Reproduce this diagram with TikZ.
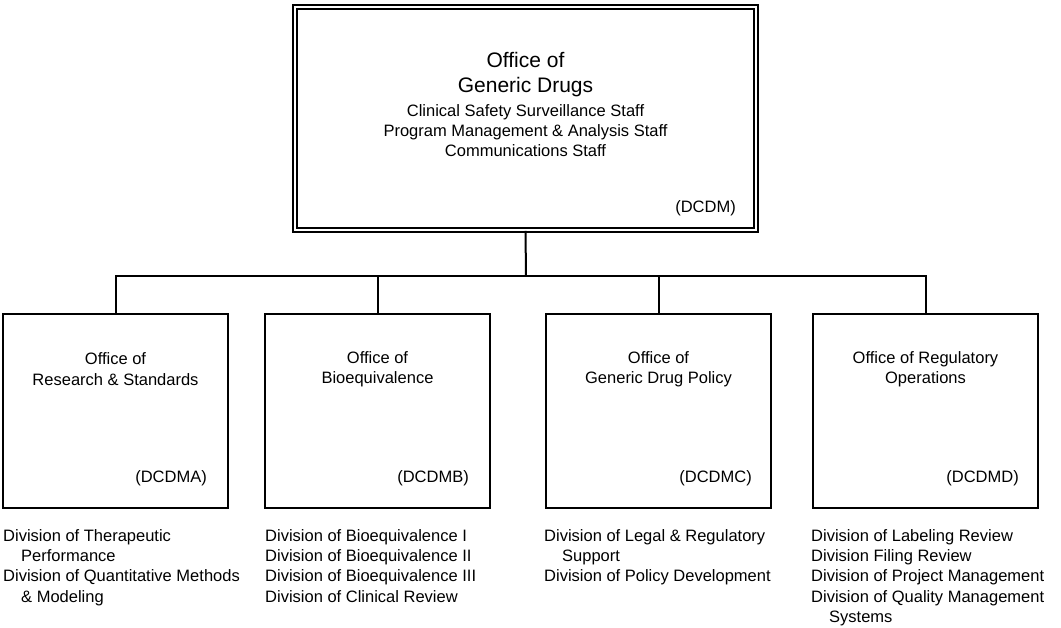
\documentclass[tikz,border=0pt]{standalone}
\usepackage{fontspec}
\setmainfont{Liberation Sans}
\begin{document}
\begin{tikzpicture}[x=1pt,y=-1pt,
  unitbox/.style={draw, line width=2pt, minimum width=225pt, minimum height=194pt, inner sep=0pt},
  topbox/.style={draw, double, double distance=2.2pt, line width=1.6pt, minimum width=461pt, minimum height=223pt, inner sep=0pt},
  titletext/.style={align=center, inner sep=0pt, font=\fontsize{16.5}{20.3}\selectfont},
  codetext/.style={anchor=east, inner sep=0pt, font=\fontsize{16.5}{20.3}\selectfont},
  listtext/.style={anchor=north west, align=left, inner sep=0pt, font=\fontsize{16.5}{20.4}\selectfont},
  link/.style={line width=2pt}]
\useasboundingbox (0,0) rectangle (1061,628);

\node[topbox] (top) at (525.5,118.5) {};
\node[align=center, inner sep=0pt, font=\fontsize{21}{25}\selectfont] (toptitle) at (525.5,74.5) {Office of\\Generic Drugs};
\node[titletext] (topstaff) at (525.5,130.5) {Clinical Safety Surveillance Staff\\Program Management \& Analysis Staff\\Communications Staff};
\node[codetext] (topcode) at (736,208) {(DCDM)};

\node[unitbox] (a) at (115.5,411) {};
\node[unitbox] (b) at (377.5,411) {};
\node[unitbox] (c) at (658.5,411) {};
\node[unitbox] (d) at (925.5,411) {};

\node[titletext] (at) at (115.5,369) {Office of\\Research \& Standards};
\node[titletext] (bt) at (377.5,369) {Office of\\Bioequivalence};
\node[titletext] (ct) at (658.5,369) {Office of\\Generic Drug Policy};
\node[titletext] (dt) at (925.5,369) {Office of Regulatory\\Operations};

\node[codetext] (ac) at (207,478) {(DCDMA)};
\node[codetext] (bc) at (469,478) {(DCDMB)};
\node[codetext] (cc) at (752,478) {(DCDMC)};
\node[codetext] (dc) at (1019,478) {(DCDMD)};

\node[listtext] (al) at (3,529) {Division of Therapeutic\\\hspace*{18pt}Performance\\Division of Quantitative Methods\\\hspace*{18pt}\& Modeling};
\node[listtext] (bl) at (265,529) {Division of Bioequivalence I\\Division of Bioequivalence II\\Division of Bioequivalence III\\Division of Clinical Review};
\node[listtext] (cl) at (544,529) {Division of Legal \& Regulatory\\\hspace*{18pt}Support\\Division of Policy Development};
\node[listtext] (dl) at (811,529) {Division of Labeling Review\\Division Filing Review\\Division of Project Management\\Division of Quality Management\\\hspace*{18pt}Systems};

\coordinate (bus) at (526,276);
\draw[link] (top.south) -- (bus);
\draw[link] (a.north) |- (bus);
\draw[link] (b.north) |- (bus);
\draw[link] (c.north) |- (bus);
\draw[link] (d.north) |- (bus);
\end{tikzpicture}
\end{document}
